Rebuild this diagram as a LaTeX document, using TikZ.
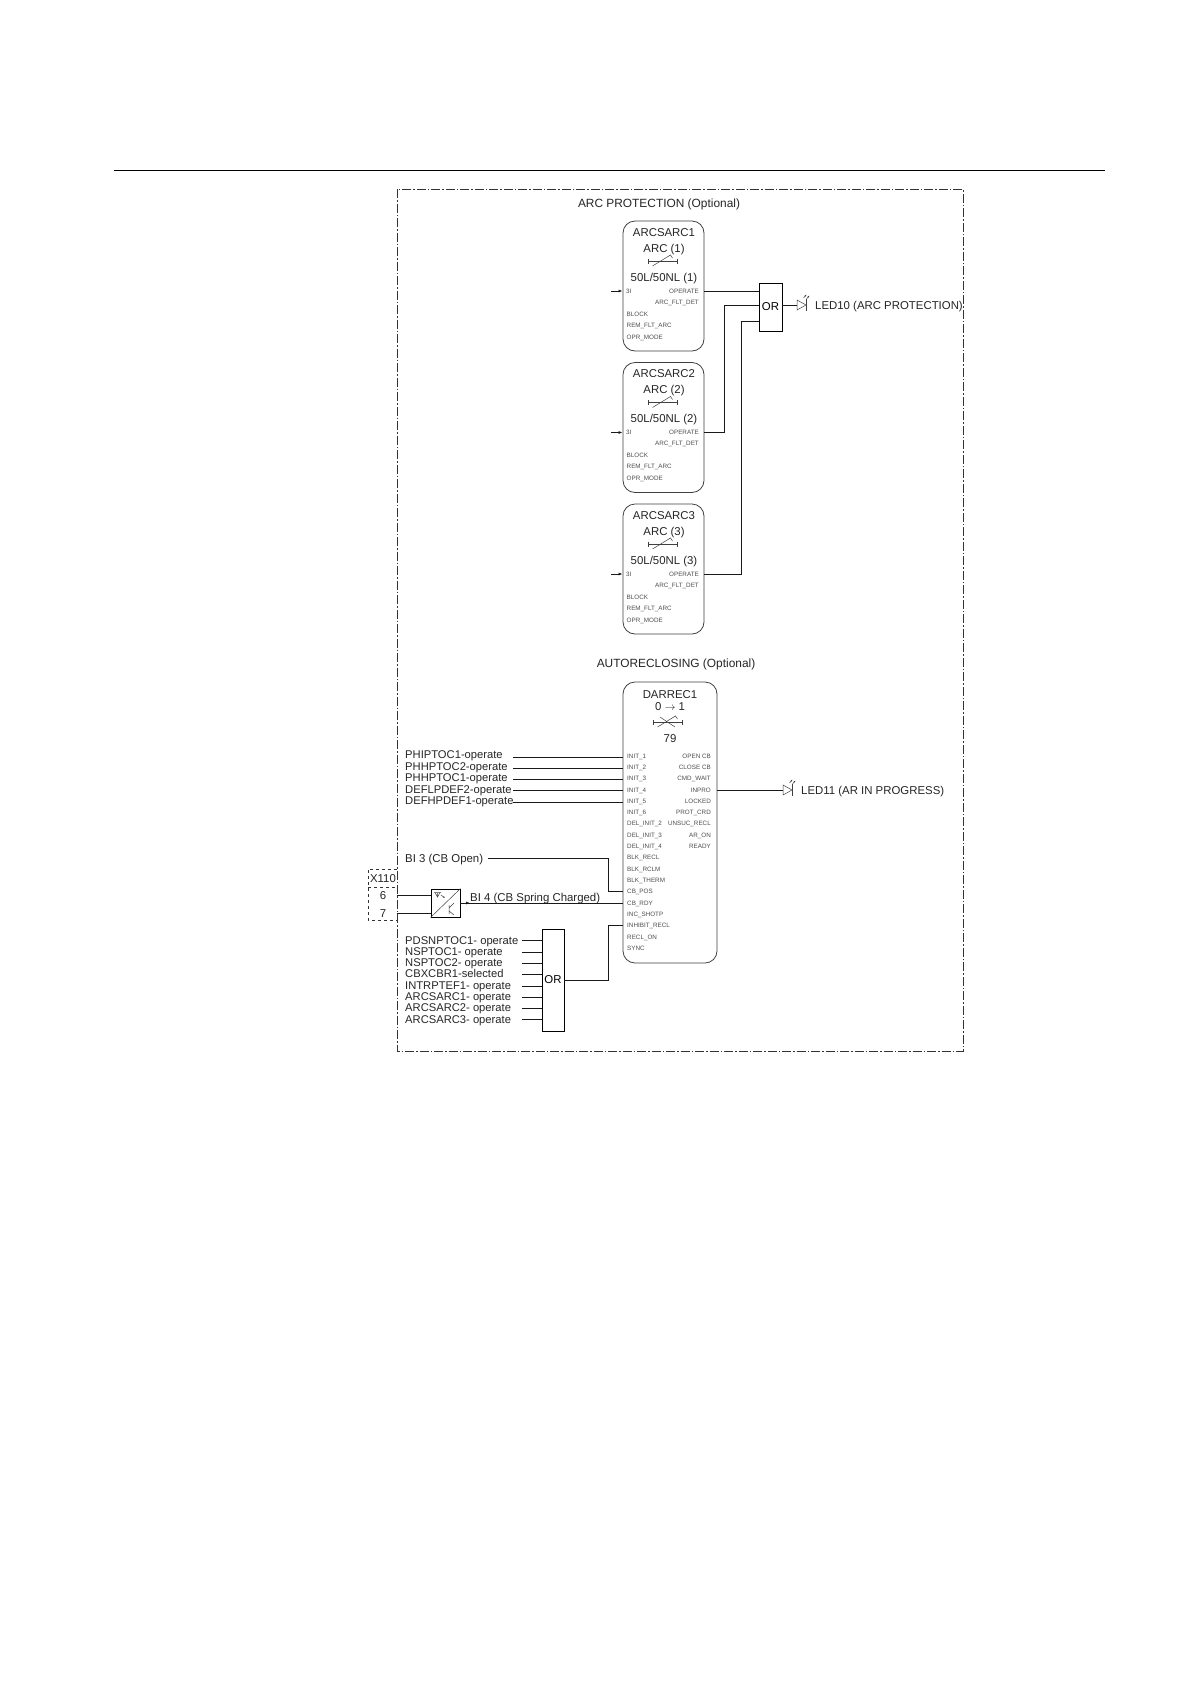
\documentclass[tikz,border=0pt]{standalone}
\usepackage{fontspec}
\setmainfont{Liberation Sans}
\usetikzlibrary{arrows.meta}
\tikzset{
  wire/.style={draw=black!90,line width=0.95pt},
  inwire/.style={wire,-{Latex[length=4pt,width=3pt]}},
  thin sym/.style={draw=black!75,line width=0.5pt},
  frame/.style={draw=black!80,line width=0.75pt,dash pattern=on 9pt off 2pt on 1.5pt off 2pt},
  fbox/.style={draw=black!75,line width=0.8pt,rounded corners=12pt,inner sep=0pt},
  gate/.style={draw=black,line width=0.8pt,inner sep=0pt},
  lbl/.style={inner sep=0pt,font=\fontsize{11.4}{12}\selectfont,text=black!85,text height=8.2pt,text depth=0pt},
  ttl/.style={lbl,font=\fontsize{11.9}{12}\selectfont},
  sidelbl/.style={lbl,anchor=west,font=\fontsize{11.2}{12}\selectfont},
  pinl/.style={inner sep=0pt,anchor=west,font=\fontsize{6.3}{7}\selectfont,text=black!70,text height=4.5pt,text depth=0pt},
  pinr/.style={pinl,anchor=east},
}
\newcommand{\protsym}[2]{%
  \draw[thin sym] (#1-14.5,#2-2.5) -- (#1-14.5,#2+2.5) (#1-14.5,#2) -- (#1+14.5,#2) (#1+14.5,#2-2.5) -- (#1+14.5,#2+2.5);
  \draw[thin sym] (#1-10,#2+5) -- (#1+8,#2-6) -- (#1+10,#2-3);
}
\newcommand{\ledsym}[2]{%
  \draw[thin sym] (#1,#2-5) -- (#1+9,#2) -- (#1,#2+5) -- cycle;
  \draw[thin sym] (#1+9,#2-6) -- (#1+9,#2+6);
  \draw[thin sym,-{Latex[length=2pt,width=1.6pt]}] (#1+6.5,#2-7) -- (#1+9.5,#2-10.5);
  \draw[thin sym,-{Latex[length=2pt,width=1.6pt]}] (#1+9.5,#2-6) -- (#1+12.5,#2-9.5);
}
\begin{document}
\begin{tikzpicture}[x=1pt,y=-1pt]
\useasboundingbox (0,0) rectangle (1191,1684);
\fill[white] (0,0) rectangle (1191,1684);
% page rule and outer frame
\draw[line width=0.8pt] (114,170) -- (1105,170);
\draw[frame] (397,189) rectangle (963,1051);
% titles
\node[ttl] (t1) at (659,203) {ARC PROTECTION (Optional)};
\node[ttl] (t2) at (676,663) {AUTORECLOSING (Optional)};
% arc blocks
\foreach \i/\y/\nm in {1/286/ARC (1),2/427.5/ARC (2),3/569/ARC (3)}{
  \node[fbox,minimum width=81pt,minimum height=130pt] (arc\i) at (663.5,\y) {};
  \node[lbl] (arct\i) at (664,\y-54) {ARCSARC\i};
  \node[lbl] (arcn\i) at (664,\y-38) {\nm};
  \protsym{662.5}{\y-25}
  \node[lbl] (arcc\i) at (664,\y-9) {50L/50NL (\i)};
  \node[pinl] (si\i) at (626,\y+5) {3I};
  \node[pinr] (op\i) at (699,\y+5) {OPERATE};
  \node[pinr] (fl\i) at (699,\y+16) {ARC\_FLT\_DET};
  \node[pinl] (bl\i) at (626.5,\y+28) {BLOCK};
  \node[pinl] (re\i) at (626.5,\y+39) {REM\_FLT\_ARC};
  \node[pinl] (om\i) at (626.5,\y+51) {OPR\_MODE};
  \coordinate (ia\i) at (611,\y+5);
  \draw[inwire] (ia\i) -- (arc\i.west |- si\i);
}
% OR 1
\node[gate,minimum width=23pt,minimum height=48pt,font=\fontsize{11.4}{12}\selectfont] (or1) at (770.5,307) {OR};
\coordinate (orb) at (759,305);
\coordinate (orc) at (759,321);
\coordinate (bus2) at (724,305);
\coordinate (bus3) at (741,321);
\draw[wire] (arc1.east |- op1) -- (or1.west |- op1);
\draw[wire] (arc2.east |- op2) -- (bus2 |- op2) -- (bus2) -- (orb);
\draw[wire] (arc3.east |- op3) -- (bus3 |- op3) -- (bus3) -- (orc);
\coordinate (led10) at (797,305);
\draw[wire] (or1.east |- led10) -- (led10);
\ledsym{797}{305}
\node[lbl,anchor=west] (l10) at (815,305) {LED10 (ARC PROTECTION)};
% DARREC
\node[fbox,minimum width=94pt,minimum height=281pt] (dar) at (670,822.5) {};
\node[lbl] (dt) at (670,694) {DARREC1};
\node[lbl] (dn) at (670,706) {0 $\rightarrow$ 1};
\protsym{667.5}{722}
\draw[thin sym] (660,717) -- (675,727);
\node[lbl] (dc) at (670,738) {79};
\foreach \n/\t/\y in {a/INIT\_1/756,b/INIT\_2/767.3,c/INIT\_3/778.7,d/INIT\_4/790,e/INIT\_5/801,f/INIT\_6/812.4,g/DEL\_INIT\_2/823.7,h/DEL\_INIT\_3/835,i/DEL\_INIT\_4/846.4,j/BLK\_RECL/857.7,k/BLK\_RCLM/869,l/BLK\_THERM/880.4,m/CB\_POS/891.7,n/CB\_RDY/903,o/INC\_SHOTP/914.4,p/INHIBIT\_RECL/925.7,q/RECL\_ON/937,r/SYNC/948.4}{
  \node[pinl] (p\n) at (627,\y) {\t};
}
\foreach \n/\t/\y in {a/OPEN CB/756,b/CLOSE CB/767.3,c/CMD\_WAIT/778.7,d/INPRO/790,e/LOCKED/801,f/PROT\_CRD/812.4,g/UNSUC\_RECL/823.7,h/AR\_ON/835,i/READY/846.4}{
  \node[pinr] (q\n) at (711,\y) {\t};
}
\coordinate (led11) at (783,790);
\draw[wire] (dar.east |- qd) -- (led11);
\ledsym{783}{790}
\node[lbl,anchor=west] (l11) at (801,790) {LED11 (AR IN PROGRESS)};
% init inputs
\foreach \n/\t/\ty/\ly/\sx in {1/PHIPTOC1-operate/754.5/757/513,2/PHHPTOC2-operate/766/768/513,3/PHHPTOC1-operate/777/779/513,4/DEFLPDEF2-operate/789/790.5/513,5/DEFHPDEF1-operate/800/802/513}{
  \node[sidelbl] (it\n) at (405,\ty) {\t};
  \coordinate (is\n) at (\sx,\ly);
  \draw[wire] (is\n) -- (dar.west |- is\n);
}
% BI 3
\node[lbl,anchor=west] (bi3) at (405,858) {BI 3 (CB Open)};
\coordinate (bi3s) at (488,858);
\coordinate (busb) at (608,858);
\draw[wire] (bi3s) -- (busb) -- (busb |- pm) -- (dar.west |- pm);
% X110
\draw[black!80,line width=0.65pt,dashed] (397,869) -- (368,869) -- (368,920) -- (397,920) (368,887) -- (397,887);
\node[lbl] (x110) at (383,878) {X110};
\node[lbl] (x6) at (383,895) {6};
\node[lbl] (x7) at (383,913) {7};
% converter
\node[gate,minimum width=29pt,minimum height=28pt] (conv) at (445.5,903) {};
\draw[thin sym] (conv.south west) -- (conv.north east);
\draw[thin sym] (434,892.5) -- (441,892.5) (437.5,892.5) -- (437.5,897) (435,892.5) -- (437.5,897) -- (440,892.5);
\draw[thin sym,-{Latex[length=2pt,width=1.6pt]}] (441,895) -- (445,898);
\draw[thin sym] (449,905) -- (449,914) (449,908) -- (454,903) (449,911) -- (454,915);
\coordinate (c6) at (397,895);
\coordinate (c7) at (397,913);
\draw[wire] (c6) -- (conv.west |- c6);
\draw[wire] (c7) -- (conv.west |- c7);
\draw[wire] (conv.east) -- (dar.west |- conv.east);
\coordinate (bi4a) at (470,903);
\draw[inwire] (conv.east) -- (bi4a);
\node[lbl,anchor=west] (bi4) at (470,897) {BI 4 (CB Spring Charged)};
% OR 2
\node[gate,minimum width=22pt,minimum height=102pt,font=\fontsize{11.4}{12}\selectfont] (or2) at (553,980) {OR};
\foreach \n/\t/\ty/\ly in {1/PDSNPTOC1- operate/940/940,2/NSPTOC1- operate/951/952.7,3/NSPTOC2- operate/962/963.5,4/CBXCBR1-selected/973/974.5,5/INTRPTEF1- operate/985/986,6/ARCSARC1- operate/996/997,7/ARCSARC2- operate/1007/1008,8/ARCSARC3- operate/1019/1019}{
  \node[sidelbl] (ot\n) at (405,\ty) {\t};
  \coordinate (os\n) at (522,\ly);
  \draw[wire] (os\n) -- (or2.west |- os\n);
}
\coordinate (busc) at (608,980);
\draw[wire] (or2.east) -- (busc) -- (busc |- pp) -- (dar.west |- pp);
\end{tikzpicture}
\end{document}
